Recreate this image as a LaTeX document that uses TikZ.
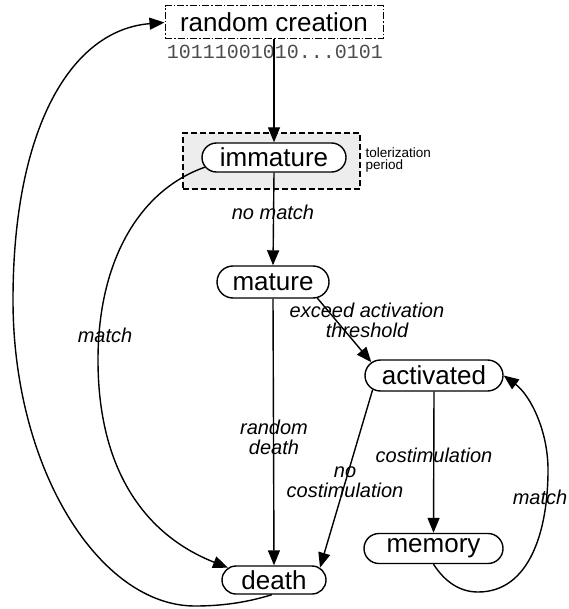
\documentclass[tikz,border=0pt]{standalone}
\usepackage{fontspec}
\setmainfont{Liberation Sans}
\setmonofont{Liberation Mono}
\usetikzlibrary{arrows.meta,shapes.misc}
\begin{document}
\begin{tikzpicture}[x=1pt,y=-1pt,line width=1.4pt,
  statebox/.style={draw,rounded rectangle,inner sep=0pt,fill=white,
    font=\fontsize{26}{26}\selectfont},
  lbl/.style={font=\fontsize{20}{20}\selectfont\itshape,align=center,inner sep=0pt},
  arr/.style={-{Triangle[length=15pt,width=12pt]}},
  ]
\useasboundingbox (0,0) rectangle (568,609);
% tolerization period box
\node[draw,dashed,dash pattern=on 6pt off 3pt,fill=black!7,minimum width=177pt,minimum height=56pt,inner sep=0pt] (tol) at (271.5,161) {};
\node[anchor=west,align=left,inner sep=0pt,font=\fontsize{13.5}{12}\selectfont] (toltxt) at (365,160) {tolerization\\period};
% nodes
\node[draw,line width=1pt,dash pattern=on 7pt off 2pt on 1.5pt off 2pt,minimum width=218pt,minimum height=33pt,inner sep=0pt,font=\fontsize{26}{26}\selectfont] (rc) at (274,22.5) {random creation};
\node[inner sep=0pt,font=\fontsize{20}{20}\ttfamily,text=black!70] (bits) at (275,52) {10111001010...0101};
\node[statebox,minimum width=144pt,minimum height=29pt] (imm) at (274,157.5) {immature};
\node[statebox,minimum width=112pt,minimum height=32pt] (mat) at (273,282) {mature};
\node[statebox,minimum width=138pt,minimum height=31pt] (act) at (434,375.5) {activated};
\node[statebox,minimum width=139pt,minimum height=30pt] (mem) at (433.5,548.5) {memory};
\node[statebox,minimum width=104pt,minimum height=28pt] (dea) at (274,580) {death};
% labels
\node[lbl] (lnomatch) at (273,212) {no match};
\node[lbl] (lexceed) at (367,320) {exceed activation\\threshold};
\node[lbl] (lmatchL) at (105,335) {match};
\node[lbl] (lrdeath) at (274,437) {random\\death};
\node[lbl] (lnocost) at (345,482) {no\\costimulation};
\node[lbl] (lcost) at (434,455) {costimulation};
\node[lbl] (lmatchR) at (540,497) {match};
% connectors
\draw[arr] (rc.south) -- (imm.north);
\draw[arr] (imm.south) -- (mat.north);
\draw[arr] (mat.south) -- (dea.north);
\draw[arr] (mat.-20) -- (act.168);
\draw[arr] (act.193) -- (dea.15);
\draw[arr] (act.south) -- (mem.north);
\draw[arr] (imm.188) .. controls (140,190) and (98,260) .. (98,360)
  .. controls (98,470) and (145,535) .. (dea.165);
\draw[arr] (dea.262) .. controls (245,603) and (220,606) .. (195,606)
  .. controls (100,606) and (13,470) .. (13,300)
  .. controls (13,130) and (70,30) .. (rc.west);
\draw[arr] (mem.south) .. controls (445,582) and (460,592) .. (478,592)
  .. controls (530,592) and (548,530) .. (548,470)
  .. controls (548,430) and (530,395) .. (act.east);
\end{tikzpicture}
\end{document}
